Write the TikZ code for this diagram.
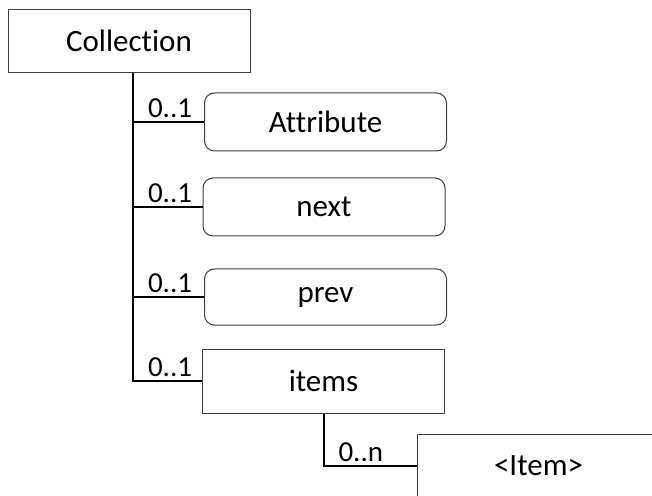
\documentclass[tikz,border=0pt]{standalone}
\usepackage{fontspec}
\setmainfont[Ligatures={NoCommon, NoContextual}]{Carlito}
\usepackage{tikz}
\usetikzlibrary{positioning, calc}
\definecolor{boxgray}{RGB}{64, 64, 64}

\begin{document}
\begin{tikzpicture}[
    x=0.5pt, y=-0.5pt,
    elem/.style={rectangle, draw=boxgray, line width=0.5pt, minimum width=121pt, minimum height=#1, font=\fontsize{15.5}{18}\selectfont, inner sep=0pt},
    elem/.default=29pt,
    opt/.style={elem=#1, rounded corners=5pt},
    opt/.default=29pt,
    conn/.style={line width=1pt, black},
    mult/.style={anchor=south west, inner xsep=7pt, inner ysep=1.5pt, font=\fontsize{14.5}{16}\selectfont}
]
\useasboundingbox (0,0) rectangle (652,496);
\clip (0,0) rectangle (652,496);

% Root element
\node[elem=31.5pt] (coll) at (129, 41) {Collection};

% Children
\node[opt] (attr) at (325.5, 122) {Attribute};
\node[opt] (next) at (324, 207) {next};
\node[opt=28pt] (prev) at (325.5, 297) {prev};
\node[elem=32pt] (items) at (323.5, 381) {items};

% Grandchild
\node[elem=31.5pt] (item) at (538.5, 465.5) {\textless Item\textgreater};

% Connectors
\draw[conn] ([xshift=2pt]coll.south) |- (attr.west) node[pos=0.5, mult] {0..1};
\draw[conn] ([xshift=2pt]coll.south) |- (next.west) node[pos=0.5, mult] {0..1};
\draw[conn] ([xshift=2pt]coll.south) |- (prev.west) node[pos=0.5, mult] {0..1};
\draw[conn] ([xshift=2pt]coll.south) |- (items.west) node[pos=0.5, mult] {0..1};
\draw[conn] (items.south) |- (item.west) node[pos=0.5, mult] {0..n};

\end{tikzpicture}
\end{document}
